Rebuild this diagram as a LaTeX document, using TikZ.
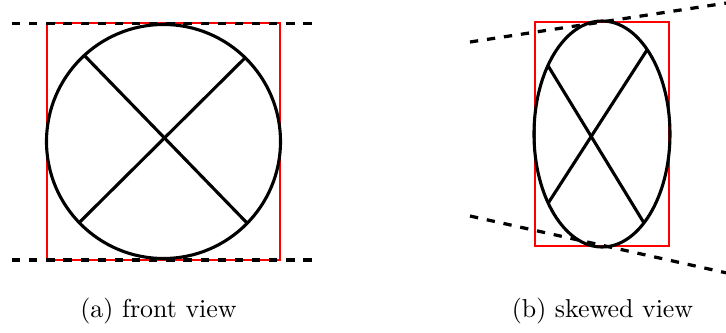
\documentclass[tikz,border=0pt]{standalone}
\usetikzlibrary{calc}
\begin{document}
\begin{tikzpicture}[x=0.3861pt,y=-0.3861pt,
  outline/.style={line width=1.2pt},
  guide/.style={line width=1.25pt, dash pattern=on 3.2pt off 3.42pt},
  frame/.style={red, line width=0.75pt}]
\useasboundingbox (0,0) rectangle (726,333);
% ---- (a) front view ----
\coordinate (c1) at (163.5,141.5);
\draw[frame] (47,23.3) rectangle (280,260);
\draw[outline] (c1) circle [radius=117];
\coordinate (a1) at ($(c1)+(-132.6:117)$);
\coordinate (a2) at ($(c1)+(44.3:117)$);
\coordinate (a3) at ($(c1)+(-45.7:117)$);
\coordinate (a4) at ($(c1)+(136.1:117)$);
\draw[outline] (a1) -- (a2);
\draw[outline] (a3) -- (a4);
\coordinate (t1) at (12,23.3);
\coordinate (t2) at (312,23.3);
\coordinate (b1) at (12,260);
\coordinate (b2) at (312,260);
\draw[guide] (t1) -- (t2);
\draw[guide] (b1) -- (b2);
% ---- (b) skewed view ----
\coordinate (e) at (602,134);
\draw[frame] (535,22) rectangle (669,246);
\draw[outline] (e) ellipse [x radius=68, y radius=113];
\coordinate (p1) at ($(e)+(-142.7:68 and 113)$);
\coordinate (p2) at ($(e)+(51.9:68 and 113)$);
\coordinate (p3) at ($(e)+(-48.3:68 and 113)$);
\coordinate (p4) at ($(e)+(142.3:68 and 113)$);
\draw[outline] (p1) -- (p2);
\draw[outline] (p3) -- (p4);
\coordinate (u1) at (470,42);
\coordinate (u2) at (726,3.1);
\coordinate (l1) at (470,216);
\coordinate (l2) at (726,272.8);
\draw[guide] (u1) -- (u2);
\draw[guide] (l1) -- (l2);
% ---- captions ----
\node[anchor=base, inner sep=0pt] (capa) at (158.5,317) {(a) front view};
\node[anchor=base, inner sep=0pt] (capb) at (602.5,317) {(b) skewed view};
\end{tikzpicture}
\end{document}
